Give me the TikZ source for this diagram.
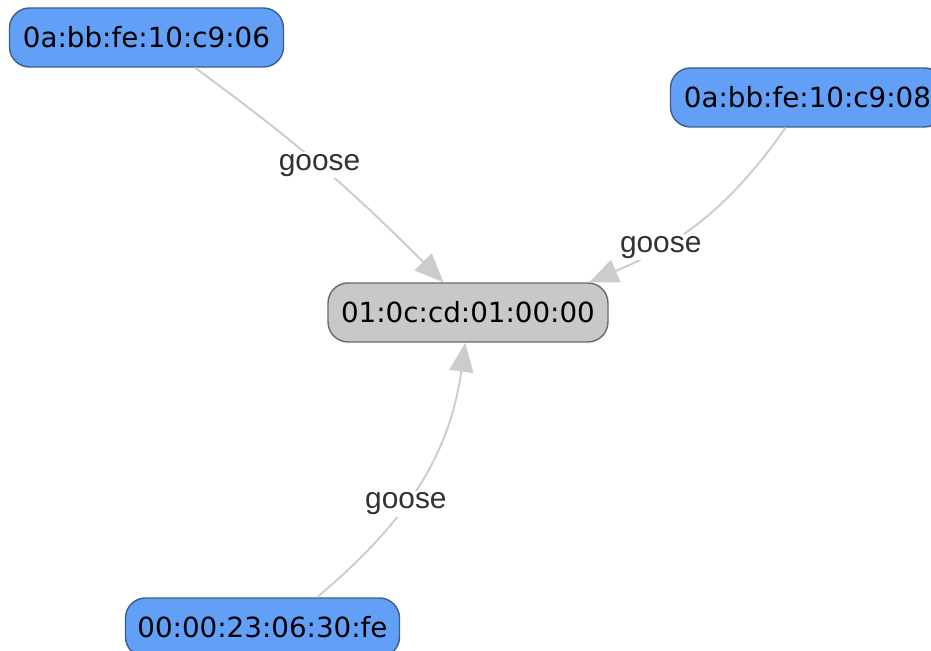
\documentclass[tikz,border=0pt]{standalone}
\usepackage{fontspec}
\setmainfont{DejaVu Sans}
\newfontfamily\tagfont{Liberation Sans}
\usepackage{xcolor}
\definecolor{Mac-blue}{RGB}{98, 160, 248}
\definecolor{Mac-border}{RGB}{62, 92, 140}
\definecolor{Group-grey}{RGB}{200, 200, 200}
\definecolor{Group-border}{RGB}{105, 105, 105}
\definecolor{Link-grey}{RGB}{204, 204, 204}
\definecolor{Tag-text}{RGB}{50, 50, 50}
\usepackage{tikz}
\usetikzlibrary{arrows.meta,positioning}

\begin{document}
\begin{tikzpicture} [ % styles for each kind of node
            x=0.02cm, y=-0.02cm, >={Triangle[length=0.58cm,width=0.48cm]},
            mac/.style = {rectangle, rounded corners=0.4cm, minimum height=1.18cm, minimum width=5.48cm, inner sep=0pt, draw=Mac-border, fill=Mac-blue, line width=0.8pt, font=\fontsize{15.8}{18}\selectfont},
            mac-group/.style = {mac, fill=Group-grey, draw=Group-border, minimum width=5.6cm},
            link/.style = {draw=Link-grey, line width=1.1pt, ->},
            tag/.style = {fill=white, inner sep=1pt, text=Tag-text, font=\tagfont\fontsize{17}{20}\selectfont}
        ]

        \useasboundingbox (0,0) rectangle (931,651);

        % group address in the middle
        \node [mac-group] (group) at (468,312.5) {01:0c:cd:01:00:00};

        % senders
        \node [mac] (mac06) at (146.5,37.5) {0a:bb:fe:10:c9:06};
        \node [mac] (mac08) at (807.5,97.5) {0a:bb:fe:10:c9:08};
        \node [mac] (macfe) at (262.5,627.5) {00:00:23:06:30:fe};

        % links
        \draw [link] (mac06.-32) to [out=-36, in=135] node [tag, pos=0.48] {goose} (group.129);
        \draw [link] (mac08.-126) to [out=-125, in=23] node [tag, pos=0.7] {goose} (group.14);
        \draw [link] (macfe.29) to [out=40, in=-98] node [tag, pos=0.42] {goose} (group.-95);

    \end{tikzpicture}
\end{document}
